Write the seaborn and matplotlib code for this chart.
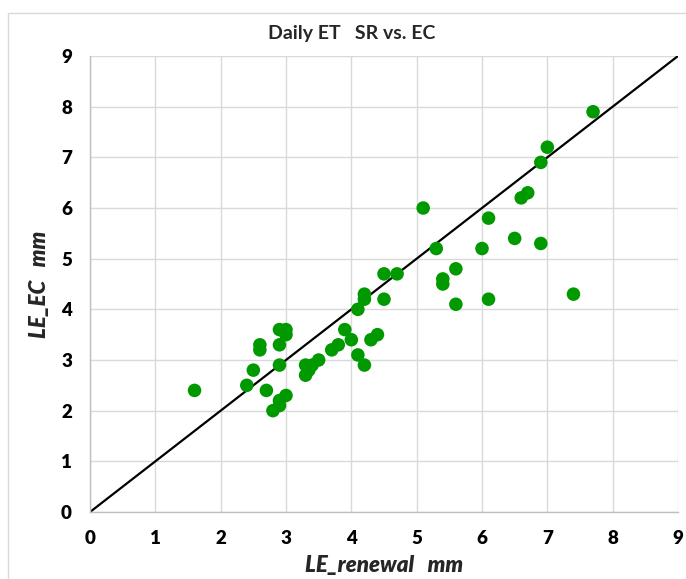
import pandas as pd
import seaborn as sns
import matplotlib.pyplot as plt
from matplotlib.patches import Rectangle

# valores
le_renewal = [1.6, 2.4, 2.5, 2.6, 2.6, 2.7, 2.8, 2.9, 2.9, 3.0, 2.9, 2.9, 2.9, 3.0, 3.0,
              3.3, 3.3, 3.35, 3.4, 3.5, 3.7, 3.8, 3.9, 4.0, 4.1, 4.2, 4.3, 4.4, 4.1,
              4.2, 4.2, 4.5, 4.7, 4.5, 5.1, 5.3, 5.4, 5.4, 5.6, 5.6, 6.0, 6.1, 6.1,
              6.5, 6.6, 6.7, 6.9, 6.9, 7.0, 7.4, 7.7]
le_ec = [2.4, 2.5, 2.8, 3.2, 3.3, 2.4, 2.0, 2.1, 2.2, 2.3, 2.9, 3.3, 3.6, 3.6, 3.5,
         2.9, 2.7, 2.8, 2.9, 3.0, 3.2, 3.3, 3.6, 3.4, 3.1, 2.9, 3.4, 3.5, 4.0,
         4.2, 4.3, 4.7, 4.7, 4.2, 6.0, 5.2, 4.6, 4.5, 4.8, 4.1, 5.2, 5.8, 4.2,
         5.4, 6.2, 6.3, 6.9, 5.3, 7.2, 4.3, 7.9]
linha_11 = [0, 9]
ticks = list(range(10))

df = pd.DataFrame({'LE_renewal': le_renewal, 'LE_EC': le_ec})

sns.set_style('white')
plt.rcParams['font.family'] = ['Lato', 'DejaVu Sans']

fig = plt.figure(figsize=(6.86, 5.79), dpi=100)
ax = fig.add_axes([90/686, 1-512/579, 588/686, 456/579])

# moldura do grafico
fig.patches.append(Rectangle((8/686, -0.01), 1.0, 1-13/579+0.01, transform=fig.transFigure,
                             fill=False, edgecolor='#d9d9d9', linewidth=1))

sns.scatterplot(data=df, x='LE_renewal', y='LE_EC', ax=ax, color='#009900', s=95,
                edgecolor='none', zorder=3)
ax.plot(linha_11, linha_11, color='black', linewidth=1.6, zorder=2)

ax.set_xlim(0, 9)
ax.set_ylim(0, 9)
ax.set_xticks(ticks)
ax.set_yticks(ticks)
ax.grid(True, color='#d9d9d9', linewidth=1)
for s in ['top', 'right']:
    ax.spines[s].set_visible(False)
for s in ['left', 'bottom']:
    ax.spines[s].set_color('#bfbfbf')
    ax.spines[s].set_linewidth(1)
ax.tick_params(length=0, labelsize=13.5, pad=13, labelcolor='black')
for lab in ax.get_xticklabels() + ax.get_yticklabels():
    lab.set_fontweight('heavy')

ax.set_xlabel('LE_renewal   mm', fontsize=16, fontweight='heavy', style='italic', labelpad=6)
ax.set_ylabel('LE_EC   mm', fontsize=16, fontweight='heavy', style='italic', labelpad=8)
fig.text(352/686, 1-34/579, 'Daily ET   SR vs. EC', ha='center', va='center',
         fontsize=14, fontweight='bold')

plt.savefig('out.png', dpi=100)
